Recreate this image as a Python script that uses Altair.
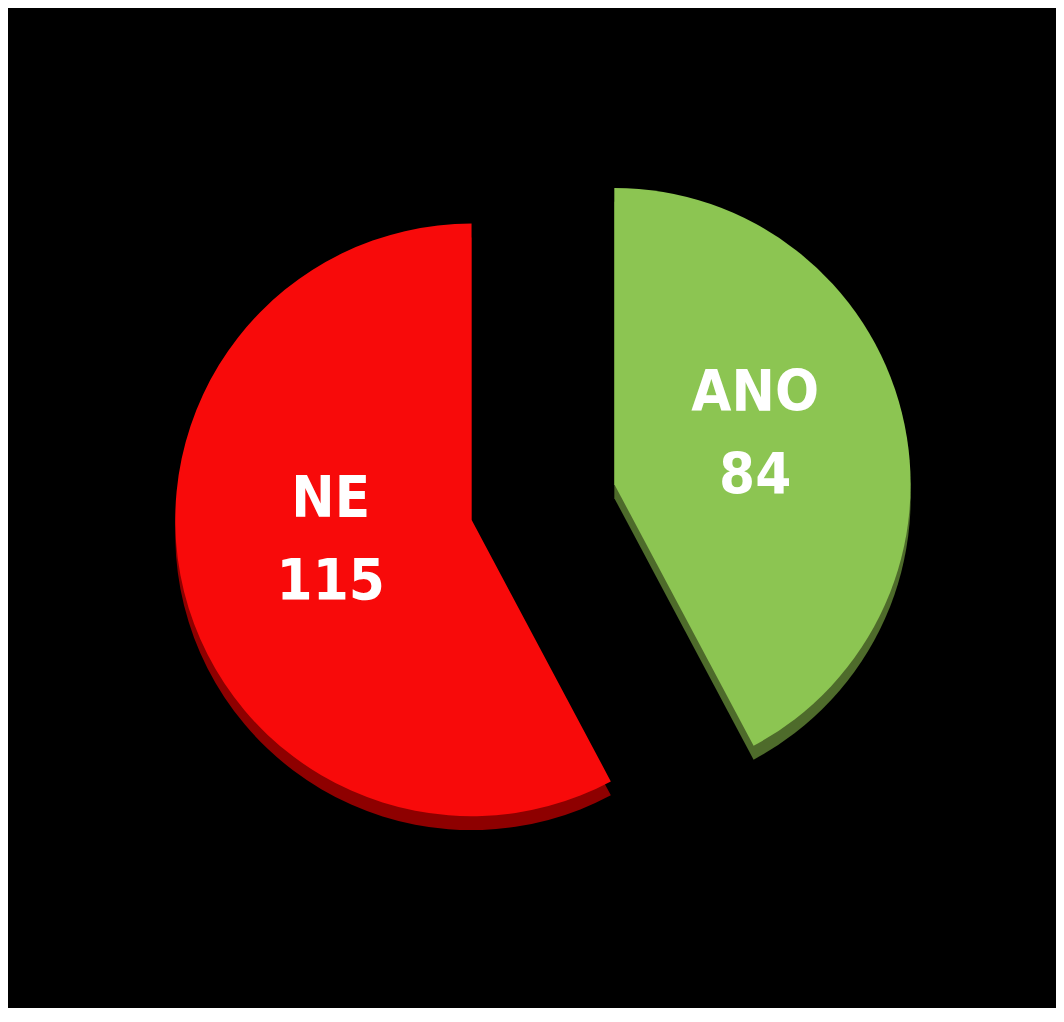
import altair as alt
import pandas as pd

# ---- data ----
parties = ["ANO", "NE"]
votes = [84, 115]
order = [0, 1]
top_colors = ["#8CC552", "#F80A0A"]
side_colors = ["#4E6B2B", "#8E0000"]

# ---- layout constants ----
W, H = 1054, 1000
CX, CY = 538, 494      # pie centre (before explode)
R = 298                # radius
EXPLODE = 74           # explode distance
LABEL_R = 146
LABEL_DY = -55

df = pd.DataFrame({"party": parties, "votes": votes, "order": order})

base = (
    alt.Chart(df)
    .transform_window(cum="sum(votes)", sort=[alt.SortField("order")])
    .transform_joinaggregate(total="sum(votes)")
    .transform_calculate(
        start="2*PI*(datum.cum-datum.votes)/datum.total",
        end="2*PI*datum.cum/datum.total",
    )
    .transform_calculate(mid="(datum.start+datum.end)/2")
    .transform_calculate(
        cx=f"{CX}+{EXPLODE}*sin(datum.mid)",
        cy=f"{CY}-{EXPLODE}*cos(datum.mid)",
    )
    .transform_calculate(
        lx=f"datum.cx+{LABEL_R}*sin(datum.mid)",
        ly=f"datum.cy-{LABEL_R}*cos(datum.mid)+({LABEL_DY})",
        label="[datum.party, format(datum.votes, 'd')]",
    )
)

enc = dict(
    x=alt.X("cx:Q", scale=None, axis=None),
    y=alt.Y("cy:Q", scale=None, axis=None),
    theta=alt.Theta("start:Q", scale=None),
    theta2=alt.Theta2("end:Q"),
)

side = base.mark_arc(radius=R, yOffset=14).encode(
    color=alt.Color("party:N", scale=alt.Scale(domain=parties, range=side_colors), legend=None),
    **enc,
)

top = base.mark_arc(radius=R).encode(
    color=alt.Color("party:N", scale=alt.Scale(domain=parties, range=top_colors), legend=None),
    **enc,
)

labels = base.mark_text(
    font="DejaVu Sans Condensed, DejaVu Sans",
    fontWeight="bold",
    fontSize=58,
    color="white",
    lineHeight=83,
    align="center",
    baseline="middle",
).encode(
    x=alt.X("lx:Q", scale=None, axis=None),
    y=alt.Y("ly:Q", scale=None, axis=None),
    text="label:N",
)

chart = (
    alt.layer(side, top, labels)
    .resolve_scale(color="independent")
    .properties(width=W, height=H, background="black", padding=0, autosize="none")
    .configure_view(strokeWidth=0)
)

chart.save("out.html", embed_options={"renderer": "svg", "actions": False})
